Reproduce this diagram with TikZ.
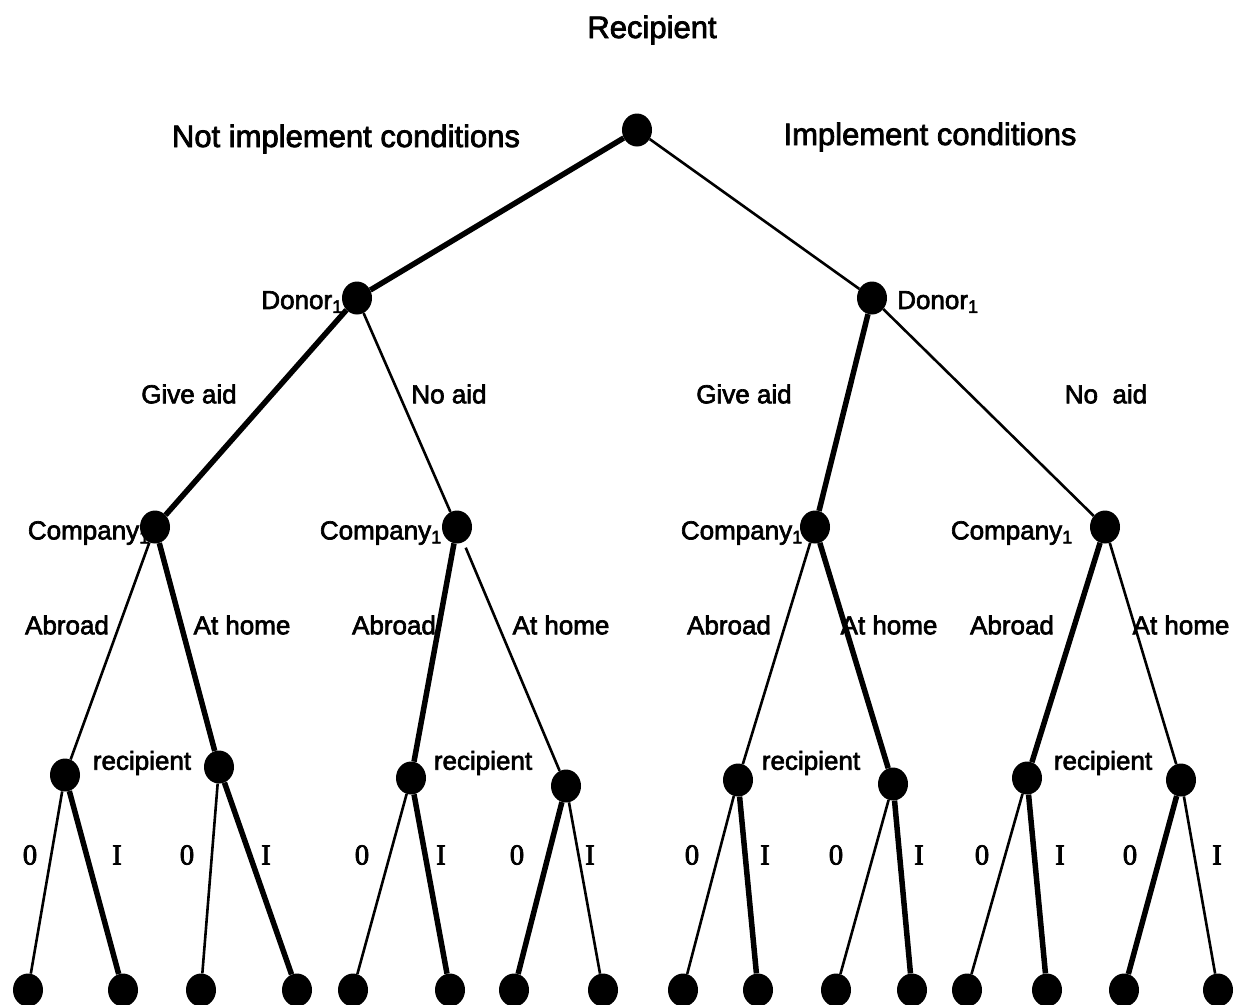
\documentclass[tikz,border=0pt]{standalone}
\usepackage{fontspec}
\setmainfont[FakeBold=2.5]{Liberation Sans}
\newfontfamily\plainsans[FakeBold=2.5]{Liberation Sans}
\newfontfamily\serifnum[FakeBold=2.5]{Liberation Serif}
\usetikzlibrary{shapes.geometric}
\begin{document}
\begin{tikzpicture}[x=1pt,y=-1pt,
  dot/.style={fill=black, draw=none, ellipse, minimum width=30pt, minimum height=33pt, inner sep=0pt},
  thickedge/.style={line width=5.5pt},
  thinedge/.style={line width=2.6pt},
  biglab/.style={font=\plainsans\fontsize{31}{36}\selectfont, inner sep=0pt},
  midlab/.style={font=\plainsans\fontsize{26}{30}\selectfont, inner sep=0pt},
  numlab/.style={font=\serifnum\fontsize{29}{33}\selectfont, inner sep=0pt}]
\fill[white] (0,0) rectangle (1234,1004);
\useasboundingbox (0,0) rectangle (1234,1004);

% decision nodes
\node[dot] (root) at (637,130) {};
\node[dot] (dL) at (357,298) {};
\node[dot] (dR) at (872,298) {};
\node[dot] (cLL) at (155,527) {};
\node[dot] (cLR) at (457,527) {};
\node[dot] (cRL) at (815,527) {};
\node[dot] (cRR) at (1105,527) {};
\node[dot] (r1) at (65,775) {};
\node[dot] (r2) at (219,767) {};
\node[dot] (r3) at (411,778) {};
\node[dot] (r4) at (566,786) {};
\node[dot] (r5) at (738,780) {};
\node[dot] (r6) at (893,784) {};
\node[dot] (r7) at (1027,778) {};
\node[dot] (r8) at (1181,780) {};
% leaves
\foreach \n/\x in {1/28,2/123,3/201,4/297,5/353,6/450,7/514,8/603,9/683,10/758,11/836,12/912,13/967,14/1047,15/1124,16/1218}
  \node[dot] (l\n) at (\x,990) {};

% edges
\draw[thickedge] (root) -- (dL);
\draw[thinedge] (root) -- (dR);
\draw[thickedge] (dL) -- (cLL);
\draw[thinedge] (dL) -- (cLR);
\draw[thickedge] (dR) -- (cRL);
\draw[thinedge] (dR) -- (cRR);
\draw[thinedge] (cLL) -- (r1);
\draw[thickedge] (cLL) -- (r2);
\draw[thickedge] (cLR) -- (r3);
\draw[thinedge, shorten <=6pt] (cLR) -- (r4);
\draw[thinedge] (cRL) -- (r5);
\draw[thickedge] (cRL) -- (r6);
\draw[thickedge] (cRR) -- (r7);
\draw[thinedge] (cRR) -- (r8);
\draw[thinedge] (r1) -- (l1);  \draw[thickedge] (r1) -- (l2);
\draw[thinedge] (r2) -- (l3);  \draw[thickedge] (r2) -- (l4);
\draw[thinedge] (r3) -- (l5);  \draw[thickedge] (r3) -- (l6);
\draw[thickedge] (r4) -- (l7); \draw[thinedge] (r4) -- (l8);
\draw[thinedge] (r5) -- (l9);  \draw[thickedge] (r5) -- (l10);
\draw[thinedge] (r6) -- (l11); \draw[thickedge] (r6) -- (l12);
\draw[thinedge] (r7) -- (l13); \draw[thickedge] (r7) -- (l14);
\draw[thickedge] (r8) -- (l15); \draw[thinedge] (r8) -- (l16);

% labels
\node[biglab] (tRec) at (652,30) {Recipient};
\node[biglab] (tNot) at (346,139) {Not implement conditions};
\node[biglab] (tImp) at (930,137) {Implement conditions};
\node[midlab, anchor=east] (tDL) at (343,302) {Donor\textsubscript{1}};
\node[midlab, anchor=west] (tDR) at (897,302) {Donor\textsubscript{1}};
\node[midlab] (tG1) at (189,394) {Give aid};
\node[midlab] (tN1) at (449,394) {No aid};
\node[midlab] (tG2) at (744,394) {Give aid};
\node[midlab] (tN2) at (1106,394) {No\ \ aid};
\node[midlab, anchor=east] (tC1) at (150,533) {Company\textsubscript{1}};
\node[midlab, anchor=east] (tC2) at (442,533) {Company\textsubscript{1}};
\node[midlab, anchor=east] (tC3) at (803,533) {Company\textsubscript{1}};
\node[midlab, anchor=east] (tC4) at (1073,533) {Company\textsubscript{1}};
\foreach \i/\x in {1/67,2/394,3/729,4/1012}
  \node[midlab] (tA\i) at (\x,625) {Abroad};
\foreach \i/\x in {1/242,2/561,3/889,4/1181}
  \node[midlab] (tH\i) at (\x,625) {At home};
\foreach \i/\x in {1/142,2/483,3/811,4/1103}
  \node[midlab] (tR\i) at (\x,763) {recipient};
\foreach \i/\x in {1/30,2/187,3/362,4/517,5/692,6/836,7/982,8/1130}
  \node[numlab] (tZ\i) at (\x,855) {0};
\foreach \i/\x in {1/117,2/266,3/441,4/590,5/765,6/919,7/1060,8/1217}
  \node[numlab] (tI\i) at (\x,855) {I};
\end{tikzpicture}
\end{document}
